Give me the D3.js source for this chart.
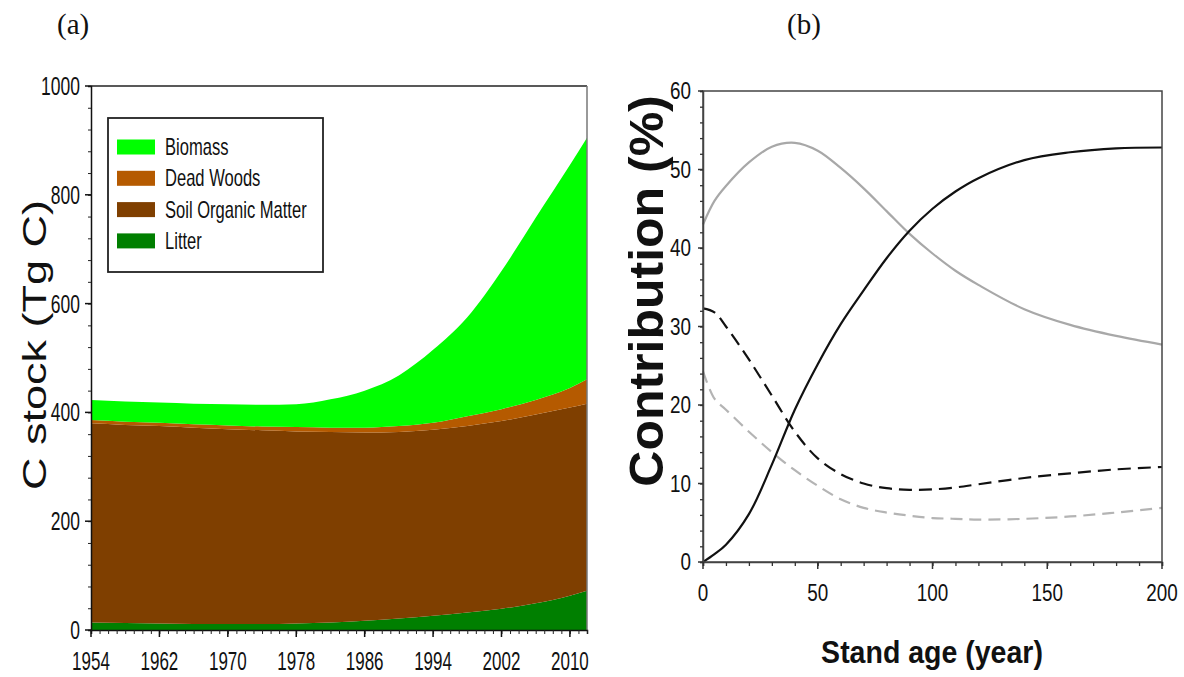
<!DOCTYPE html>
<html>
<head>
<meta charset="utf-8">
<script src="https://cdn.jsdelivr.net/npm/d3@7/dist/d3.min.js"></script>
<style>
  html, body { margin: 0; padding: 0; background: #fff; }
  svg { display: block; }
</style>
</head>
<body>
<svg id="chart" width="1184" height="677"></svg>
<script>
// ---------------- Panel (a) data ----------------
const years = [1954, 1958, 1962, 1966, 1970, 1974, 1978, 1982, 1986, 1990, 1994, 1998, 2002, 2006, 2010, 2012];
const litter = [14, 13, 12, 11, 11, 11, 12, 14, 17, 21, 26, 32, 39, 49, 63, 72];
const soilOrganicMatter = [366, 364, 363, 361, 358, 356, 353, 350, 346, 343, 342, 343, 345, 347, 346, 344];
const deadWoods = [6, 6, 6, 6, 7, 7, 8, 8, 9, 11, 13, 18, 22, 27, 36, 45];
const biomass = [37, 37, 37, 38, 39, 40, 42, 52, 68, 93, 134, 182, 254, 335, 410, 444];
const legendLabels = ["Biomass", "Dead Woods", "Soil Organic Matter", "Litter"];
const yearTicks = [1954, 1962, 1970, 1978, 1986, 1994, 2002, 2010];
const stockTicks = [0, 200, 400, 600, 800, 1000];

// ---------------- Panel (b) data ----------------
const ages = [0, 5, 10, 20, 30, 40, 50, 60, 70, 80, 90, 100, 110, 120, 140, 160, 180, 200];
const graySolid = [43.0, 46.0, 47.9, 50.9, 52.9, 53.4, 52.4, 50.2, 47.6, 44.7, 41.8, 39.3, 37.1, 35.3, 32.2, 30.2, 28.8, 27.7];
const blackSolid = [0, 1.0, 2.2, 6.1, 12.4, 19.4, 25.2, 30.3, 34.6, 38.7, 42.2, 45.0, 47.2, 48.9, 51.2, 52.2, 52.7, 52.8];
const blackDashed = [32.3, 31.8, 30.0, 25.8, 21.2, 16.6, 13.2, 11.2, 10.0, 9.4, 9.2, 9.25, 9.5, 9.9, 10.7, 11.3, 11.8, 12.1];
const grayDashed = [24.3, 20.8, 19.4, 16.6, 14.0, 11.7, 9.7, 8.0, 6.9, 6.3, 5.9, 5.6, 5.5, 5.4, 5.5, 5.8, 6.3, 6.9];
const ageTicks = [0, 50, 100, 150, 200];
const contribTicks = [0, 10, 20, 30, 40, 50, 60];

const svg = d3.select("#chart");
const SANS = "'Liberation Sans', Arial, Helvetica, sans-serif";

function sText(g, x, y, txt, opts) {
  const o = Object.assign({size: 20, sx: 1, anchor: "start", weight: "normal", rot: 0, family: SANS}, opts || {});
  return g.append("text")
    .attr("transform", `translate(${x},${y}) scale(${o.sx},1) rotate(${o.rot})`)
    .attr("text-anchor", o.anchor)
    .attr("font-family", o.family)
    .attr("font-size", o.size)
    .attr("font-weight", o.weight)
    .attr("fill", "#111")
    .text(txt);
}

// ================= Panel (a) =================
const gA = svg.append("g");
const xA = d3.scaleLinear().domain([1954, 2012]).range([91, 587]);
const yA = d3.scaleLinear().domain([0, 1000]).range([630, 86]);

const keys = ["litter", "som", "dead", "biomass"];
const colors = {litter: "#007f00", som: "#7f3f00", dead: "#b55a00", biomass: "#00ff00"};
const rows = years.map((yr, i) => ({year: yr, litter: litter[i], som: soilOrganicMatter[i], dead: deadWoods[i], biomass: biomass[i]}));
const stack = d3.stack().keys(keys)(rows);
const area = d3.area()
  .x(d => xA(d.data.year))
  .y0(d => yA(d[0]))
  .y1(d => yA(d[1]))
  .curve(d3.curveMonotoneX);
gA.selectAll("path.layer").data(stack).join("path")
  .attr("class", "layer")
  .attr("d", area)
  .attr("fill", d => colors[d.key]);

// frame
gA.append("line").attr("x1", xA(1954)).attr("x2", xA(2012)).attr("y1", yA(1000)).attr("y2", yA(1000)).attr("stroke", "#222").attr("stroke-width", 1.5);
gA.append("line").attr("x1", xA(2012)).attr("x2", xA(2012)).attr("y1", yA(1000)).attr("y2", yA(0)).attr("stroke", "#777").attr("stroke-width", 1.5);

// y axis
const yAxisA = gA.append("g").attr("transform", `translate(${xA(1954)},0)`);
yAxisA.call(d3.axisLeft(yA).tickValues(d3.range(0, 1001, 40)).tickSize(3).tickFormat(""));
yAxisA.call(g => g.select(".domain").attr("stroke", "#111").attr("stroke-width", 1.5));
yAxisA.selectAll(".tick line").attr("stroke", "#222");
stockTicks.forEach(v => {
  yAxisA.append("line").attr("x1", -6).attr("x2", 0).attr("y1", yA(v)).attr("y2", yA(v)).attr("stroke", "#111").attr("stroke-width", 1.5);
  sText(gA, 80, yA(v) + 9, String(v), {size: 25, sx: 0.7, anchor: "end"});
});

// x axis
const xAxisA = gA.append("g").attr("transform", `translate(0,${yA(0)})`);
xAxisA.call(d3.axisBottom(xA).tickValues(d3.range(1954, 2013, 1)).tickSize(4).tickFormat(""));
xAxisA.call(g => g.select(".domain").attr("stroke", "#111").attr("stroke-width", 1.5));
xAxisA.selectAll(".tick line").attr("stroke", "#222");
yearTicks.forEach(v => {
  xAxisA.append("line").attr("x1", xA(v)).attr("x2", xA(v)).attr("y1", 0).attr("y2", 7).attr("stroke", "#111").attr("stroke-width", 1.5);
  sText(gA, xA(v), 670, String(v), {size: 25, sx: 0.68, anchor: "middle"});
});

// y title
sText(gA, 46, 345, "C stock (Tg C)", {size: 45, sx: 0.75, anchor: "middle", rot: -90});

// legend
gA.append("rect").attr("x", 108).attr("y", 118).attr("width", 215).attr("height", 154)
  .attr("fill", "#fff").attr("stroke", "#222").attr("stroke-width", 1.8);
const legendKeys = ["biomass", "dead", "som", "litter"];
legendLabels.forEach((lab, i) => {
  const cy = 147 + i * 31.3;
  gA.append("rect").attr("x", 117).attr("y", cy - 7.5).attr("width", 38).attr("height", 15).attr("fill", colors[legendKeys[i]]);
  sText(gA, 165, cy + 8, lab, {size: 23, sx: 0.72});
});

// panel labels
sText(svg, 57, 34, "(a)", {size: 29, family: "'Liberation Serif', 'Times New Roman', serif"});
sText(svg, 787, 34, "(b)", {size: 29, family: "'Liberation Serif', 'Times New Roman', serif"});

// ================= Panel (b) =================
const gB = svg.append("g");
const xB = d3.scaleLinear().domain([0, 200]).range([703, 1162]);
const yB = d3.scaleLinear().domain([0, 60]).range([562, 91]);

const line = d3.line().x(d => xB(d[0])).y(d => yB(d[1])).curve(d3.curveCatmullRom.alpha(0.5));
const series = [
  {vals: graySolid, color: "#a8a8a8", dash: null},
  {vals: grayDashed, color: "#b4b4b4", dash: "12,7"},
  {vals: blackDashed, color: "#111", dash: "13,7"},
  {vals: blackSolid, color: "#111", dash: null}
];
series.forEach(s => {
  gB.append("path")
    .attr("d", line(ages.map((a, i) => [a, s.vals[i]])))
    .attr("fill", "none")
    .attr("stroke", s.color)
    .attr("stroke-width", 2.2)
    .attr("stroke-dasharray", s.dash);
});

// frame
gB.append("rect").attr("x", xB(0)).attr("y", yB(60)).attr("width", xB(200) - xB(0)).attr("height", yB(0) - yB(60))
  .attr("fill", "none").attr("stroke", "#444").attr("stroke-width", 1.5);

const yAxisB = gB.append("g").attr("transform", `translate(${xB(0)},0)`);
yAxisB.call(d3.axisLeft(yB).tickValues(d3.range(0, 61, 2)).tickSize(3).tickFormat(""));
yAxisB.call(g => g.select(".domain").attr("stroke", "#444").attr("stroke-width", 1.5));
yAxisB.selectAll(".tick line").attr("stroke", "#333").attr("stroke-width", 1.3);
contribTicks.forEach(v => {
  yAxisB.append("line").attr("x1", -5).attr("x2", 0).attr("y1", yB(v)).attr("y2", yB(v)).attr("stroke", "#333").attr("stroke-width", 1.5);
  sText(gB, 691, yB(v) + 8, String(v), {size: 23, sx: 0.82, anchor: "end"});
});

const xAxisB = gB.append("g").attr("transform", `translate(0,${yB(0)})`);
xAxisB.call(d3.axisBottom(xB).tickValues(d3.range(0, 201, 10)).tickSize(4).tickFormat(""));
xAxisB.call(g => g.select(".domain").attr("stroke", "#444").attr("stroke-width", 1.5));
xAxisB.selectAll(".tick line").attr("stroke", "#333").attr("stroke-width", 1.3);
ageTicks.forEach(v => {
  xAxisB.append("line").attr("x1", xB(v)).attr("x2", xB(v)).attr("y1", 0).attr("y2", 7).attr("stroke", "#333").attr("stroke-width", 1.5);
  sText(gB, xB(v), 601, String(v), {size: 23, sx: 0.82, anchor: "middle"});
});

sText(gB, 932, 663, "Stand age (year)", {size: 31, sx: 0.92, anchor: "middle", weight: "bold"});
sText(gB, 663, 291, "Contribution (%)", {size: 50, sx: 0.95, anchor: "middle", weight: "bold", rot: -90});
</script>
</body>
</html>
